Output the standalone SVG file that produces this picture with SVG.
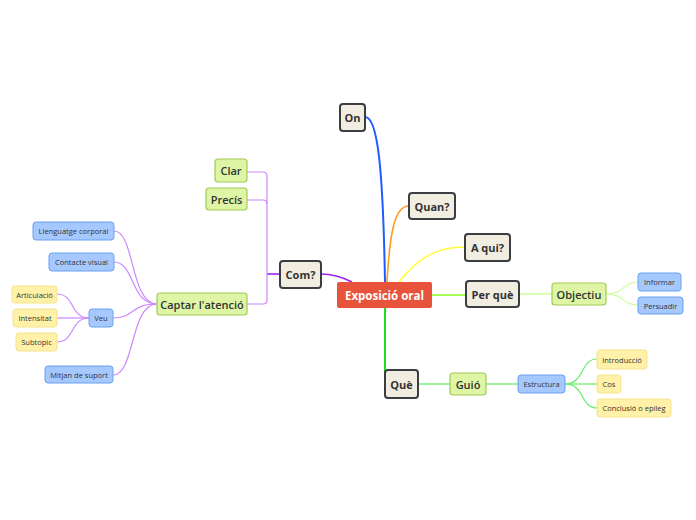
<svg xmlns="http://www.w3.org/2000/svg" width="696" height="520" viewBox="0 0 696 520">
<style>
.t{font-family:"Open Sans","Noto Sans","Liberation Sans",sans-serif;text-anchor:middle;dominant-baseline:central;fill:#333}
.main rect{fill:#f1eee1;stroke:#3a3d42;stroke-width:2}
.main text{font-size:11px;font-weight:700}
.g rect{fill:#ddf5a5;stroke:#a3cc55;stroke-width:1.2}
.g text{font-size:11px;font-weight:600}
.b rect{fill:#a5c9ff;stroke:#6a9ff0;stroke-width:1}
.b text{font-size:7.5px}
.y rect{fill:#fff2a8;stroke:#f5e38c;stroke-width:1}
.y text{font-size:7.5px}
.c path{fill:none}
</style>
<rect width="696" height="520" fill="#ffffff"/>
<g id="connectors" class="c">
<path d="M385,282 C383,170 378,117 365,117" stroke="#1f5cff" stroke-width="2"/>
<path d="M387,282 C390,230 395,206 409,206" stroke="#ff9a1f" stroke-width="1.6"/>
<path d="M399,282 C420,255 440,247 465,247" stroke="#ffff33" stroke-width="1.6"/>
<path d="M432,295 L466,295" stroke="#88ff22" stroke-width="1.6"/>
<path d="M385,308 L385,375 Q385,384 387,384" stroke="#22dd22" stroke-width="2"/>
<path d="M352,282 C340,276 332,274 321,274" stroke="#a020f0" stroke-width="1.6"/>
<path d="M519,294 L552,294" stroke="#ccff99" stroke-width="1.5"/>
<path d="M606,294 C625,294 622,282 638,282" stroke="#ccff99" stroke-width="1.2"/>
<path d="M606,294 C625,294 622,305 638,305" stroke="#ccff99" stroke-width="1.2"/>
<path d="M418,384 L450,384" stroke="#66ee66" stroke-width="1.3"/>
<path d="M486,384 L518,384" stroke="#66ee66" stroke-width="1.3"/>
<path d="M565,384 C585,384 580,359 597,359" stroke="#66ee66" stroke-width="1.2"/>
<path d="M565,384 L597,384" stroke="#66ee66" stroke-width="1.2"/>
<path d="M565,384 C585,384 580,408 597,408" stroke="#66ee66" stroke-width="1.2"/>
<path d="M280,274 L267,274" stroke="#a020f0" stroke-width="1.6"/>
<path d="M247,172 L263,172 Q267,172 267,176 L267,300 Q267,304 263,304 L247,304" stroke="#cc88ff" stroke-width="1.2"/>
<path d="M247,200 L263,200 Q267,200 267,204" stroke="#cc88ff" stroke-width="1.2"/>
<path d="M157,304 C130,304 135,231 114,231" stroke="#cc88ff" stroke-width="1.2"/>
<path d="M157,304 C130,304 135,262 114,262" stroke="#cc88ff" stroke-width="1.2"/>
<path d="M157,304 C130,304 135,318 113,318" stroke="#cc88ff" stroke-width="1.2"/>
<path d="M157,304 C130,304 135,375 113,375" stroke="#cc88ff" stroke-width="1.2"/>
<path d="M89,318 C70,318 75,294 57,294" stroke="#cc88ff" stroke-width="1.2"/>
<path d="M89,318 L57,318" stroke="#cc88ff" stroke-width="1.2"/>
<path d="M89,318 C70,318 75,342 57,342" stroke="#cc88ff" stroke-width="1.2"/>
</g>
<g id="central">
<rect x="337" y="282" width="95" height="26" rx="2" fill="#e8533c"/>
<text class="t" x="384.5" y="295" style="fill:#fff;font-size:11.5px;font-weight:700">Exposició oral</text>
</g>
<g id="on" class="main"><rect x="340" y="104" width="25" height="27" rx="3"/><text class="t" x="352.5" y="117.5">On</text></g>
<g id="quan" class="main"><rect x="409" y="193" width="46" height="26" rx="3"/><text class="t" x="432" y="206">Quan?</text></g>
<g id="aqui" class="main"><rect x="465" y="234" width="45" height="27" rx="3"/><text class="t" x="487.5" y="247.5">A qui?</text></g>
<g id="perque" class="main"><rect x="466" y="281" width="53" height="26" rx="3"/><text class="t" x="492.5" y="294">Per què</text></g>
<g id="com" class="main"><rect x="280" y="261" width="41" height="27" rx="3"/><text class="t" x="300.5" y="274.5">Com?</text></g>
<g id="que" class="main"><rect x="385" y="370" width="33" height="28" rx="3"/><text class="t" x="401.5" y="384">Què</text></g>
<g id="objectiu" class="g"><rect x="552" y="283" width="54" height="22" rx="3"/><text class="t" x="579" y="294">Objectiu</text></g>
<g id="guio" class="g"><rect x="450" y="373" width="36" height="22" rx="3"/><text class="t" x="468" y="384">Guió</text></g>
<g id="clar" class="g"><rect x="215" y="159" width="32" height="23" rx="3"/><text class="t" x="231" y="170.5">Clar</text></g>
<g id="precis" class="g"><rect x="206" y="188" width="41" height="22" rx="3"/><text class="t" x="226.5" y="199">Precís</text></g>
<g id="captar" class="g"><rect x="157" y="293" width="90" height="22" rx="3"/><text class="t" x="202" y="304">Captar l'atenció</text></g>
<g id="informar" class="b"><rect x="638" y="273" width="43" height="18" rx="3"/><text class="t" x="659.5" y="282">Informar</text></g>
<g id="persuadir" class="b"><rect x="638" y="297" width="45" height="17" rx="3"/><text class="t" x="660.5" y="305.5">Persuadir</text></g>
<g id="estructura" class="b"><rect x="518" y="375" width="47" height="18" rx="3"/><text class="t" x="541.5" y="384">Estructura</text></g>
<g id="llenguatge" class="b"><rect x="33" y="222" width="81" height="18" rx="3"/><text class="t" x="73.5" y="231">Llenguatge corporal</text></g>
<g id="contacte" class="b"><rect x="49" y="253" width="65" height="18" rx="3"/><text class="t" x="81.5" y="262">Contacte visual</text></g>
<g id="veu" class="b"><rect x="89" y="309" width="24" height="18" rx="3"/><text class="t" x="101" y="318">Veu</text></g>
<g id="mitjan" class="b"><rect x="45" y="366" width="68" height="17" rx="3"/><text class="t" x="79" y="374.5">Mitjan de suport</text></g>
<g id="introduccio" class="y"><rect x="597" y="350" width="50" height="19" rx="3"/><text class="t" x="622" y="359.5">Introducció</text></g>
<g id="cos" class="y"><rect x="597" y="375" width="24" height="18" rx="3"/><text class="t" x="609" y="384">Cos</text></g>
<g id="conclusio" class="y"><rect x="597" y="399" width="74" height="18" rx="3"/><text class="t" x="634" y="408">Conclusió o epíleg</text></g>
<g id="articulacio" class="y"><rect x="12" y="286" width="45" height="17" rx="3"/><text class="t" x="34.5" y="294.5">Articulació</text></g>
<g id="intensitat" class="y"><rect x="13" y="309" width="44" height="18" rx="3"/><text class="t" x="35" y="318">Intensitat</text></g>
<g id="subtopic" class="y"><rect x="16" y="333" width="41" height="18" rx="3"/><text class="t" x="36.5" y="342">Subtopic</text></g>
</svg>
